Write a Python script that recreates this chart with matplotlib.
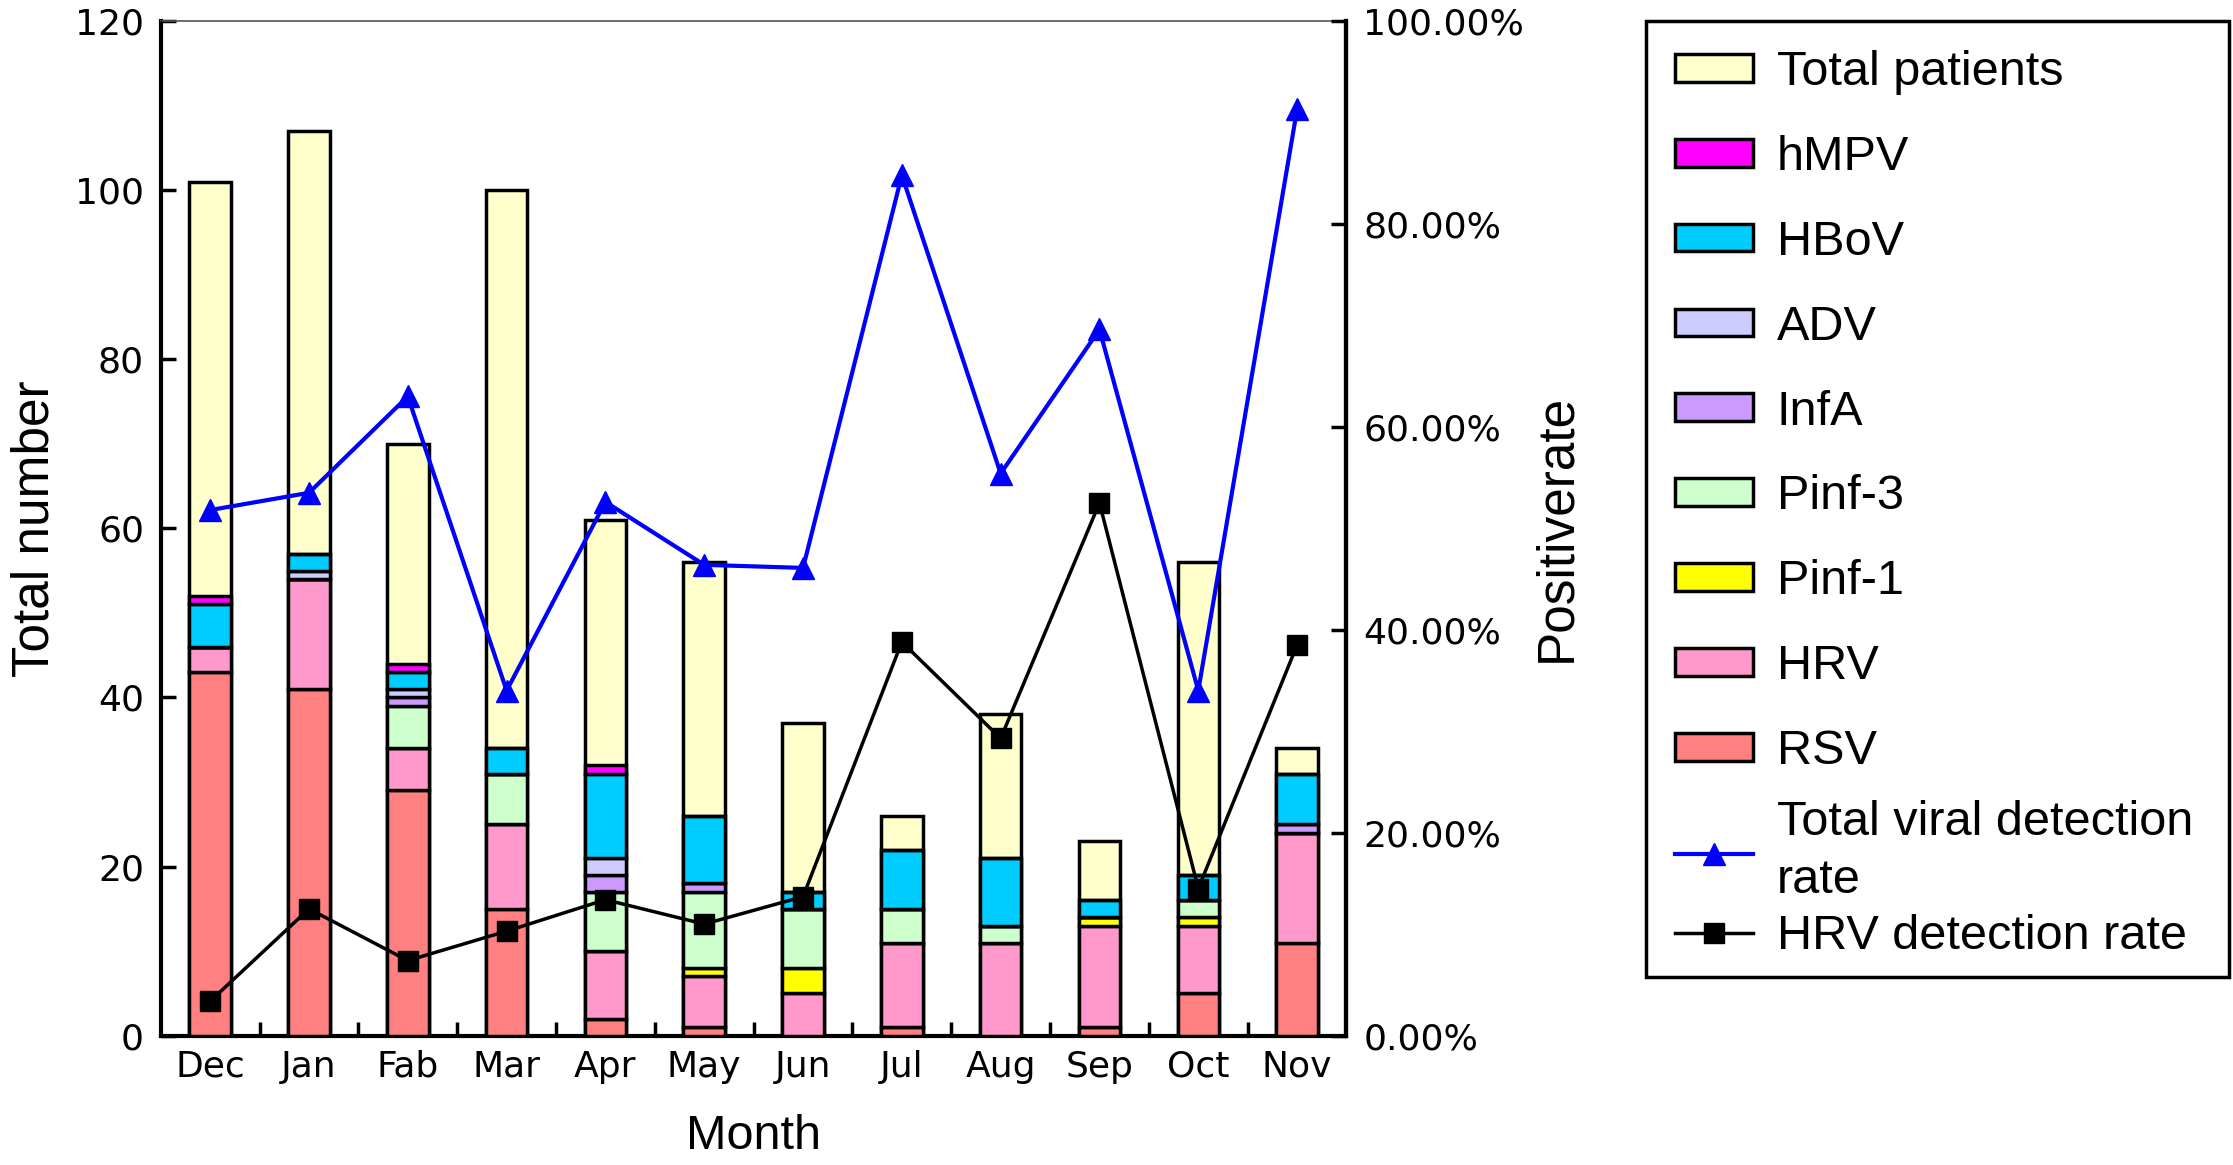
import matplotlib
matplotlib.use('Agg')
import matplotlib.pyplot as plt
import numpy as np
from matplotlib.ticker import FuncFormatter
from matplotlib.patches import Rectangle

months = ['Dec', 'Jan', 'Fab', 'Mar', 'Apr', 'May', 'Jun', 'Jul', 'Aug', 'Sep', 'Oct', 'Nov']
total = [101, 107, 70, 100, 61, 56, 37, 26, 38, 23, 56, 34]
rsv = [43, 41, 29, 15, 2, 1, 0, 1, 0, 1, 5, 11]
hrv = [3, 13, 5, 10, 8, 6, 5, 10, 11, 12, 8, 13]
pinf1 = [0, 0, 0, 0, 0, 1, 3, 0, 0, 1, 1, 0]
pinf3 = [0, 0, 5, 6, 7, 9, 7, 4, 2, 0, 2, 0]
infa = [0, 0, 1, 0, 2, 1, 0, 0, 0, 0, 0, 1]
adv = [0, 1, 1, 0, 2, 0, 0, 0, 0, 0, 0, 0]
hbov = [5, 2, 2, 3, 10, 8, 2, 7, 8, 2, 3, 6]
hmpv = [1, 0, 1, 0, 1, 0, 0, 0, 0, 0, 0, 0]

# rates in percent (right axis)
total_rate = [51.8, 53.5, 63.0, 34.0, 52.6, 46.4, 46.1, 84.8, 55.4, 69.6, 34.0, 91.3]
hrv_rate = [3.4, 12.5, 7.4, 10.3, 13.4, 11.0, 13.7, 38.8, 29.3, 52.5, 14.5, 38.5]

layers = [
    (rsv, '#FF8080', 'RSV'),
    (hrv, '#FF99CC', 'HRV'),
    (pinf1, '#FFFF00', 'Pinf-1'),
    (pinf3, '#CCFFCC', 'Pinf-3'),
    (infa, '#CC99FF', 'InfA'),
    (adv, '#CCCCFF', 'ADV'),
    (hbov, '#00CCFF', 'HBoV'),
    (hmpv, '#FF00FF', 'hMPV'),
]

sans = ['Liberation Sans', 'DejaVu Sans']
tickfont = ['DejaVu Sans']

fig = plt.figure(figsize=(22.33, 11.65), dpi=100)
ax = fig.add_axes([0.072, 0.111, 0.531, 0.871])

x = np.arange(len(months))
w = 0.42
tot_bar = ax.bar(x, total, w, color='#FFFFCC', edgecolor='black', linewidth=2.5, zorder=2)
handles = [tot_bar]
labels = ['Total patients']
bottom = np.zeros(len(months))
stack = []
for vals, col, name in layers:
    b = ax.bar(x, vals, w, bottom=bottom, color=col, edgecolor='black', linewidth=2.5, zorder=3)
    bottom = bottom + np.array(vals)
    stack.append((b, name))
for b, name in reversed(stack):
    handles.append(b)
    labels.append(name)

ax.set_xlim(-0.5, 11.5)
ax.set_ylim(0, 120)
ax.set_yticks(range(0, 121, 20))
ax.set_xticks(x)
ax.set_xticklabels(months, family=tickfont, fontsize=26)
ax.set_xticks(x[:-1] + 0.5, minor=True)
ax.tick_params(axis='x', which='major', length=0, pad=10)
ax.tick_params(axis='x', which='minor', direction='in', length=10, width=2.5)
ax.tick_params(axis='y', direction='in', length=11, width=2.5, labelsize=26, pad=12)
for lab in ax.get_yticklabels():
    lab.set_family(tickfont)
for s in ['left', 'bottom', 'right']:
    ax.spines[s].set_linewidth(3)
ax.spines['top'].set_linewidth(1.2)
ax.spines['top'].set_color('#555555')
ax.set_xlabel('Month', family=sans, fontsize=35)
ax.xaxis.set_label_coords(0.5, -0.077)
ax.set_ylabel('Total number', family=sans, fontsize=37, labelpad=11)

ax2 = ax.twinx()
l1, = ax2.plot(x, total_rate, color='#0000FF', marker='^', markersize=16, linewidth=3, zorder=5)
l2, = ax2.plot(x, hrv_rate, color='black', marker='s', markersize=14, linewidth=2.5, zorder=5)
ax2.set_ylim(0, 100)
ax2.set_yticks(range(0, 101, 20))
ax2.yaxis.set_major_formatter(FuncFormatter(lambda v, p: '%.2f%%' % v))
ax2.tick_params(axis='y', direction='in', length=11, width=2.5, labelsize=26, pad=12)
for lab in ax2.get_yticklabels():
    lab.set_family(tickfont)
ax2.spines['right'].set_linewidth(3)
ax2.spines['top'].set_visible(False)
ax2.set_ylabel('Positiverate', family=sans, fontsize=37, labelpad=6)

legkw = dict(prop={'family': sans, 'size': 35}, frameon=False, borderpad=0.6,
             handlelength=1.6, handleheight=0.5, handletextpad=0.5, borderaxespad=0)
# bar entries
fig.legend(handles, labels, loc='upper left', bbox_to_anchor=(0.737, 0.982),
           labelspacing=0.82, **legkw)
# line entries, packed tighter as in the original
leg2 = fig.legend([l1, l2], ['Total viral detection\nrate', 'HRV detection rate'],
                  loc='lower left', bbox_to_anchor=(0.737, 0.152), labelspacing=0.22, **legkw)
leg2.get_texts()[0].set_linespacing(1.37)
fig.patches.append(Rectangle((0.737, 0.161), 0.261, 0.821, transform=fig.transFigure,
                             fill=False, edgecolor='black', linewidth=2.5))

fig.savefig('out.png', dpi=100)
